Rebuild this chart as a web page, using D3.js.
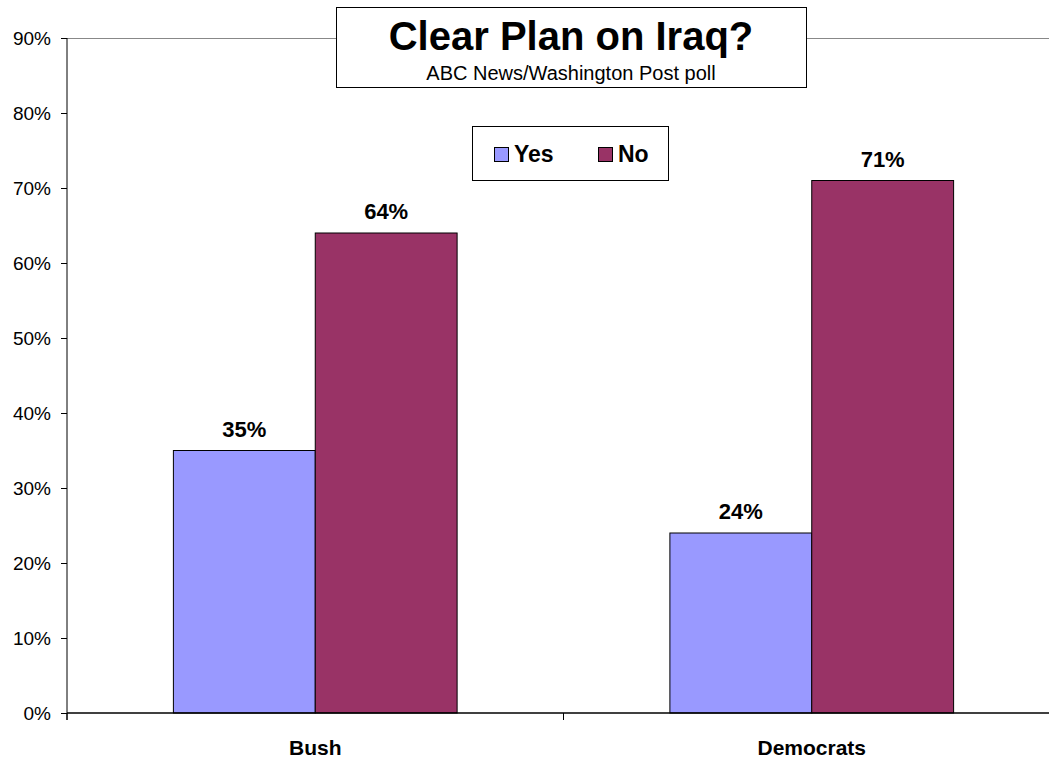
<!DOCTYPE html>
<html><head><meta charset="utf-8">
<script src="https://cdn.jsdelivr.net/npm/d3@7"></script>
<style>body{margin:0;background:#fff;}svg{display:block;font-family:Arial,"Liberation Sans",sans-serif;}</style>
</head><body>
<svg id="c" width="1049" height="759"></svg>
<script>
const categories = ["Bush", "Democrats"];
const seriesNames = ["Yes", "No"];
const yesValues = [35, 24];
const noValues = [64, 71];
const yTicks = [0, 10, 20, 30, 40, 50, 60, 70, 80, 90];
const colors = ["#9999ff", "#993366"];

(function () {
const svg = d3.select("#c");
const pLeft = 67, pRight = 1060, pTop = 38, pBottom = 713;

const x = d3.scaleBand().domain(categories).range([pLeft, pRight]).paddingInner(0).paddingOuter(0);
const xs = d3.scaleBand().domain(seriesNames).range([0, x.bandwidth()]).paddingInner(0).paddingOuter(0.75);
const y = d3.scaleLinear().domain([0, 90]).range([pBottom, pTop]);

svg.append("line").attr("x1", pLeft).attr("x2", 1049).attr("y1", pTop + 0.5).attr("y2", pTop + 0.5)
  .attr("stroke", "#888").attr("stroke-width", 1);

const data = categories.map((c, i) => ({cat: c, vals: [yesValues[i], noValues[i]]}));

const g = svg.append("g");
data.forEach(d => {
  d.vals.forEach((v, j) => {
    g.append("rect")
      .attr("x", x(d.cat) + xs(seriesNames[j]))
      .attr("y", y(v))
      .attr("width", xs.bandwidth())
      .attr("height", y(0) - y(v))
      .attr("fill", colors[j])
      .attr("stroke", "#000").attr("stroke-width", 1);
    g.append("text")
      .attr("x", x(d.cat) + xs(seriesNames[j]) + xs.bandwidth() / 2)
      .attr("y", y(v) - 14)
      .attr("text-anchor", "middle")
      .attr("font-size", 22).attr("font-weight", "bold")
      .text(v + "%");
  });
});

const yAxis = d3.axisLeft(y).tickValues(yTicks).tickFormat(d => d + "%").tickSize(6).tickPadding(10);
const ya = svg.append("g").attr("transform", `translate(${pLeft},0)`).call(yAxis);
ya.select(".domain").remove();
ya.selectAll("line").attr("stroke", "#000");
ya.selectAll("text").attr("font-size", 19).attr("font-family", "Arial,'Liberation Sans',sans-serif").attr("fill", "#000").attr("dy", "0.34em");
svg.append("line").attr("x1", pLeft).attr("x2", pLeft).attr("y1", pTop).attr("y2", pBottom + 7).attr("stroke", "#000");

svg.append("line").attr("x1", pLeft).attr("x2", 1049).attr("y1", pBottom).attr("y2", pBottom).attr("stroke", "#000").attr("stroke-width", 1.5);
const bounds = [pLeft, pLeft + x.bandwidth()];
bounds.forEach(b => svg.append("line").attr("x1", b).attr("x2", b).attr("y1", pBottom).attr("y2", pBottom + 7).attr("stroke", "#000"));
categories.forEach(c => {
  svg.append("text").attr("x", x(c) + x.bandwidth() / 2).attr("y", 755)
    .attr("text-anchor", "middle").attr("font-size", 21).attr("font-weight", "bold").text(c);
});

svg.append("rect").attr("x", 336.5).attr("y", 7.5).attr("width", 470).attr("height", 80)
  .attr("fill", "#fff").attr("stroke", "#000");
svg.append("text").attr("x", 571).attr("y", 50).attr("text-anchor", "middle")
  .attr("font-size", 40).attr("font-weight", "bold").text("Clear Plan on Iraq?");
svg.append("text").attr("x", 571).attr("y", 80).attr("text-anchor", "middle")
  .attr("font-size", 20).text("ABC News/Washington Post poll");

svg.append("rect").attr("x", 472.5).attr("y", 126.5).attr("width", 196).attr("height", 54)
  .attr("fill", "#fff").attr("stroke", "#000");
const legX = [494, 598];
seriesNames.forEach((s, j) => {
  svg.append("rect").attr("x", legX[j] + 0.5).attr("y", 147.5).attr("width", 14).attr("height", 14)
    .attr("fill", colors[j]).attr("stroke", "#000");
  svg.append("text").attr("x", legX[j] + 20).attr("y", 162).attr("font-size", 23).attr("font-weight", "bold").text(s);
});
})();
</script>
</body></html>
